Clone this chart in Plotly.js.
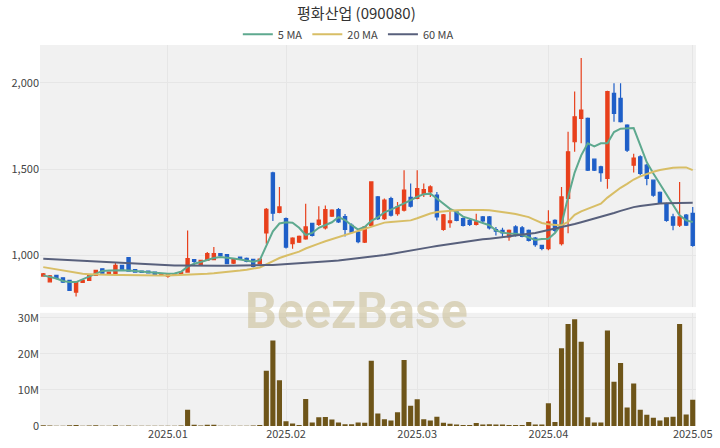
<!DOCTYPE html>
<html>
<head>
<meta charset="utf-8">
<script src="https://cdn.plot.ly/plotly-3.0.1.min.js"></script>
<style>html,body{margin:0;padding:0;background:#fff;}#chart{width:720px;height:448px;}</style>
</head>
<body>
<div id="chart"></div>
<script>
const titleText = '평화산업 (090080)';
const dates = [
'2024-12-03','2024-12-04','2024-12-05','2024-12-06','2024-12-09','2024-12-10','2024-12-11','2024-12-12','2024-12-13','2024-12-16',
'2024-12-17','2024-12-18','2024-12-19','2024-12-20','2024-12-23','2024-12-24','2024-12-26','2024-12-27','2024-12-30',
'2025-01-02','2025-01-03','2025-01-06','2025-01-07','2025-01-08','2025-01-09','2025-01-10','2025-01-13','2025-01-14','2025-01-15',
'2025-01-16','2025-01-17','2025-01-20','2025-01-21','2025-01-22','2025-01-23','2025-01-24','2025-01-31',
'2025-02-03','2025-02-04','2025-02-05','2025-02-06','2025-02-07','2025-02-10','2025-02-11','2025-02-12','2025-02-13','2025-02-14',
'2025-02-17','2025-02-18','2025-02-19','2025-02-20','2025-02-21','2025-02-24','2025-02-25','2025-02-26','2025-02-27','2025-02-28',
'2025-03-04','2025-03-05','2025-03-06','2025-03-07','2025-03-10','2025-03-11','2025-03-12','2025-03-13','2025-03-14','2025-03-17',
'2025-03-18','2025-03-19','2025-03-20','2025-03-21','2025-03-24','2025-03-25','2025-03-26','2025-03-27','2025-03-28','2025-03-31',
'2025-04-01','2025-04-02','2025-04-03','2025-04-04','2025-04-07','2025-04-08','2025-04-09','2025-04-10','2025-04-11','2025-04-14',
'2025-04-15','2025-04-16','2025-04-17','2025-04-18','2025-04-21','2025-04-22','2025-04-23','2025-04-24','2025-04-25','2025-04-28',
'2025-04-29','2025-04-30','2025-05-02'
];
const openP = [880,847,884,870,855,787,843,855,884,922, 894,894,942,987,917,909,909,903,886,879,
885,890,903,975,942,971,975,1010,1004,955, 990,983,977,952,1130,1478,1250,1213,1068,1077,
1095,1186,1180,1160,1228,1266,1225,1174,1135,1077, 1174,1339,1213,1330,1242,1262,1336,1330,1360,1368,
1349,1150,1190,1252,1213,1203,1180,1223,1223,1150, 1145,1107,1165,1160,1145,1100,1058,1039,1203,1068,
1330,1659,1795,1795,1558,1514,1446,1940,1911,1756, 1523,1572,1523,1436,1366,1300,1223,1175,1233,1244];
const highP = [898,886,888,872,858,845,857,891,916,925, 906,961,945,990,920,912,911,905,896,893,
896,906,1145,978,975,1019,1048,1013,1008,985, 993,988,980,982,1275,1485,1397,1220,1105,1115,
1300,1190,1285,1290,1268,1275,1240,1185,1145,1170, 1430,1345,1330,1340,1310,1494,1417,1494,1417,1407,
1368,1240,1272,1256,1220,1213,1242,1228,1228,1165, 1160,1150,1175,1170,1150,1106,1060,1262,1210,1397,
1717,1950,2144,1800,1562,1520,1955,1998,1998,1760, 1590,1580,1530,1440,1370,1305,1241,1426,1240,1281];
const lowP = [876,843,862,840,795,762,840,852,880,893, 890,890,913,905,900,898,896,886,883,871,
882,888,900,945,938,968,972,995,948,950, 975,960,930,948,1068,1200,1245,1040,1039,1072,
1090,1110,1170,1150,1222,1188,1110,1125,1070,1072, 1168,1205,1205,1225,1230,1255,1278,1325,1339,1339,
1203,1143,1160,1198,1168,1170,1174,1184,1150,1116, 1106,1085,1110,1105,1080,1050,1030,1030,1135,1058,
1128,1601,1650,1490,1490,1427,1387,1775,1770,1600, 1480,1465,1407,1340,1300,1195,1146,1165,1170,1050];
const closeP = [893,882,866,845,797,842,855,888,913,897, 903,942,917,909,903,901,899,890,894,890,
894,903,981,965,971,1010,1010,998,952,980, 978,965,936,978,1267,1245,1281,1048,1100,1110,
1165,1116,1205,1265,1262,1194,1150,1135,1080,1165, 1426,1213,1320,1233,1281,1378,1285,1388,1382,1397,
1223,1235,1200,1203,1174,1180,1195,1200,1160,1140, 1130,1145,1116,1110,1087,1062,1040,1194,1145,1339,
1601,1804,1843,1494,1494,1480,1950,1824,1775,1610, 1564,1475,1446,1349,1305,1203,1175,1223,1175,1058];
const volume = [2e5,1.5e5,1e5,1e5,2e5,3e5,1e5,1.5e5,2e5,1e5, 1e5,2e5,1e5,1.5e5,1e5,5e4,5e4,5e4,5e4,1e5,
1e5,1.5e5,4.5e6,3.5e5,1.5e5,3.5e5,3.5e5,1e5,1e5,1e5, 8e4,8e4,1.5e5,3e5,1.53e7,2.37e7,1.27e7,1.3e6,7e5,2.5e5,
7.5e6,1e6,2.4e6,2.5e6,1.8e6,1e6,5e5,5e5,1e6,9e5, 1.81e7,3.5e6,1.9e6,1.5e6,3.8e6,1.83e7,5.6e6,7.4e6,1.9e6,1.5e6,
2.6e6,9e5,6e5,4e5,3e5,3e5,8e5,4e5,5e5,4e5, 4e5,3e5,3e5,3e5,1.1e6,4e5,4e5,6.3e6,1.1e6,2.16e7,
2.83e7,2.96e7,2.34e7,2.4e6,1e6,1e6,2.65e7,1.23e7,1.75e7,5.1e6, 1.18e7,4.5e6,3.1e6,2.3e6,1.5e6,2.4e6,2.6e6,2.83e7,3.2e6,7.3e6];
const ma5 = [884,875,866,852,845,845,862,880,895,910, 913,915,914,913,910,905,902,899,896,894,
895,905,935,952,962,972,985,990,988,982, 976,970,963,972,1060,1140,1185,1192,1190,1160,
1118,1130,1160,1175,1192,1222,1205,1175,1150,1165, 1200,1220,1250,1265,1285,1302,1320,1340,1355,1358,
1330,1300,1270,1252,1225,1213,1200,1190,1175,1145, 1132,1127,1125,1118,1105,1090,1095,1097,1130,1180,
1339,1480,1580,1650,1632,1650,1650,1715,1735,1738, 1738,1640,1540,1475,1415,1358,1300,1233,1203,1194];
const ma20 = [932,925,917,910,903,897,893,891,889,888, 887,886,886,885,885,885,884,884,884,884,
885,886,888,889,890,893,896,899,903,907, 912,917,922,930,948,966,985,998,1010,1022,
1040,1052,1068,1082,1094,1106,1118,1128,1138,1150, 1165,1178,1190,1194,1197,1200,1203,1215,1230,1243,
1252,1256,1260,1262,1263,1264,1264,1263,1262,1258, 1252,1246,1240,1232,1222,1205,1188,1180,1175,1174,
1195,1235,1255,1270,1285,1300,1335,1365,1392,1415, 1440,1458,1472,1485,1495,1503,1508,1510,1510,1494];
const ma60 = [980,978,976,974,972,970,968,967,965,964, 962,960,958,956,954,952,950,948,946,944,
942,942,941,941,940,940,940,940,940,940, 940,941,942,943,944,945,947,949,951,953,
955,958,961,964,967,970,974,978,982,986, 990,996,1002,1008,1014,1020,1027,1034,1041,1048,
1055,1061,1067,1073,1079,1085,1089,1093,1097,1101, 1105,1110,1115,1120,1125,1130,1138,1146,1155,1163,
1172,1182,1192,1202,1212,1222,1234,1246,1258,1270, 1280,1287,1293,1298,1301,1303,1304,1305,1305,1305];
const maNames = ['5 MA','20 MA','60 MA'];
const tickDates = ['2025-01-02','2025-02-03','2025-03-04','2025-04-01','2025-05-02'];
const tickLabels = ['2025.01','2025.02','2025.03','2025.04','2025.05'];
const priceTicks = [1000,1500,2000];
const volTicks = [0,1e7,2e7,3e7];
const volTickLabels = ['0','10M','20M','30M'];

const FONT = 'Noto Sans CJK KR, Roboto, sans-serif';
const traces = [
  {type:'candlestick', x:dates, open:openP, high:highP, low:lowP, close:closeP,
   xaxis:'x', yaxis:'y', showlegend:false, hoverinfo:'skip',
   increasing:{line:{color:'#e8401c', width:1.2}, fillcolor:'#e8401c'},
   decreasing:{line:{color:'#1f5fc8', width:1.2}, fillcolor:'#1f5fc8'},
   whiskerwidth:0},
  {type:'scatter', mode:'lines', x:dates, y:ma5, name:maNames[0], xaxis:'x', yaxis:'y', line:{color:'#5ea98f', width:2}, hoverinfo:'skip'},
  {type:'scatter', mode:'lines', x:dates, y:ma20, name:maNames[1], xaxis:'x', yaxis:'y', line:{color:'#d8be66', width:2}, hoverinfo:'skip'},
  {type:'scatter', mode:'lines', x:dates, y:ma60, name:maNames[2], xaxis:'x', yaxis:'y', line:{color:'#58607c', width:2}, hoverinfo:'skip'},
  {type:'bar', x:dates, y:volume, xaxis:'x', yaxis:'y2', showlegend:false, marker:{color:'#6e5519'}, width:0.78, hoverinfo:'skip'}
];
const layout = {
  width:720, height:448,
  margin:{l:40, r:24, t:45, b:22},
  paper_bgcolor:'#ffffff', plot_bgcolor:'#f1f1f1',
  font:{family:FONT, size:11, color:'#444'},
  title:{text:titleText, x:0.495, xanchor:'center', y:0.98, yanchor:'top', font:{family:FONT, size:15, color:'#333'}},
  showlegend:true,
  legend:{orientation:'h', x:0.47, xanchor:'center', y:0.99, yanchor:'bottom', font:{family:FONT, size:11, color:'#444'}, bgcolor:'rgba(0,0,0,0)', itemwidth:30, traceorder:'normal'},
  xaxis:{type:'category', anchor:'y2', range:[-0.5, dates.length-0.5], rangeslider:{visible:false},
    tickmode:'array', tickvals:tickDates, ticktext:tickLabels, showgrid:true, gridcolor:'#e6e6e6', gridwidth:1,
    showline:false, zeroline:false, ticks:'', tickfont:{family:FONT, size:11, color:'#444'}},
  yaxis:{domain:[0.312,1], range:[700,2220], tickmode:'array', tickvals:priceTicks, tickformat:',d',
    showgrid:true, gridcolor:'#e6e6e6', zeroline:false, showline:false, ticks:'', tickfont:{family:FONT, size:11, color:'#444'}},
  yaxis2:{domain:[0,0.297], range:[0,3.14e7], tickmode:'array', tickvals:volTicks, ticktext:volTickLabels,
    showgrid:true, gridcolor:'#e6e6e6', zeroline:false, showline:false, ticks:'', tickfont:{family:FONT, size:11, color:'#444'}},
  bargap:0.25,
  annotations:[{text:'BeezBase', xref:'paper', yref:'paper', x:0.483, y:0.302, xanchor:'center', yanchor:'middle',
    showarrow:false, font:{family:'Roboto, sans-serif', size:50, color:'rgba(198,186,142,0.55)', weight:700}}]
};
Plotly.newPlot('chart', traces, layout, {displayModeBar:false, staticPlot:true});
</script>
</body>
</html>
